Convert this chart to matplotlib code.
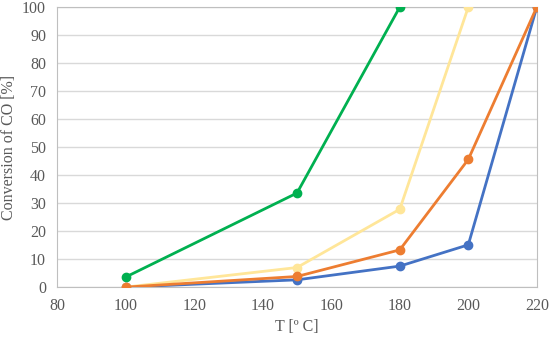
import numpy as np
import matplotlib.pyplot as plt

plt.rcParams['font.family'] = ['Liberation Serif', 'DejaVu Serif']

## data
t_blue = [100, 150, 180, 200, 220]
co_blue = [0, 2.6, 7.5, 15.1, 100]
t_yellow = [100, 150, 180, 200]
co_yellow = [0, 7.0, 27.8, 100]
t_orange = [100, 150, 180, 200, 220]
co_orange = [0, 3.8, 13.3, 45.6, 100]
t_green = [100, 150, 180]
co_green = [3.6, 33.6, 100]

fig = plt.figure(figsize=(5.5, 3.37), dpi=100)
ax = fig.add_axes([0.104, 0.148, 0.872, 0.831])

ax.plot(t_blue, co_blue, '-o', color='#4472C4', lw=2, ms=6, zorder=3)
ax.plot(t_yellow, co_yellow, '-o', color='#FFE699', lw=2, ms=6, zorder=3)
ax.plot(t_orange, co_orange, '-o', color='#ED7D31', lw=2, ms=6, zorder=4)
ax.plot(t_green, co_green, '-o', color='#00B050', lw=2, ms=6, zorder=3)

ax.set_xlim(80, 220)
ax.set_ylim(0, 100)
ax.set_xticks(np.arange(80, 221, 20))
ax.set_yticks(np.arange(0, 101, 10))
ax.grid(axis='y', color='#D9D9D9', lw=1)
ax.set_axisbelow(True)
for s in ax.spines.values():
    s.set_color('#BFBFBF')
ax.tick_params(length=0, labelsize=11.5, colors='#595959', pad=8)
ax.set_xlabel('T [º C]', fontsize=11.5, color='#595959')
ax.set_ylabel('Conversion of CO [%]', fontsize=11.5, color='#595959', labelpad=4)
ax.xaxis.set_label_coords(0.5, -0.115)

plt.savefig('out.png', dpi=100)
